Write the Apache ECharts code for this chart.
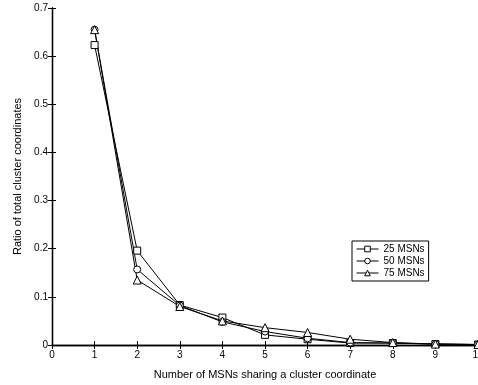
<!DOCTYPE html>
<html><head><meta charset="utf-8">
<script src="https://cdn.jsdelivr.net/npm/echarts@6/dist/echarts.min.js"></script>
<style>html,body{margin:0;padding:0;background:#fff}#c{width:478px;height:385px}</style>
</head><body><div id="c"></div>
<script>
const xValues = [1,2,3,4,5,6,7,8,9,10];
const s25 = [0.623,0.196,0.083,0.057,0.021,0.012,0.004,0.004,0.002,0.001];
const s50 = [0.655,0.157,0.082,0.048,0.028,0.014,0.005,0.004,0.002,0.001];
const s75 = [0.655,0.135,0.080,0.050,0.036,0.026,0.012,0.005,0.002,0.001];
const seriesNames = ['25 MSNs','50 MSNs','75 MSNs'];
const symbols = ['rect','circle','triangle'];
const font = 'Liberation Sans, Arial, sans-serif';
const chart = echarts.init(document.getElementById('c'));
const mk = (name, vals, sym) => ({
  name, type:'line', data: xValues.map((x,i)=>[x, vals[i]]),
  symbol: sym, symbolSize: sym==='triangle'?8:7,
  lineStyle:{color:'#000', width:1},
  itemStyle:{color:'#fff', borderColor:'#000', borderWidth:1},
  animation:false
});
const axLine = {show:true, lineStyle:{color:'#000', width:1.3}};
chart.setOption({
  animation:false,
  backgroundColor:'#fff',
  grid:{left:52, right:0, top:8, bottom:40, containLabel:false, outerBoundsMode:'none'},
  legend:{
    data: seriesNames, orient:'vertical', left:352, top:241,
    borderColor:'#000', borderWidth:1, padding:[3,4,3,4], itemGap:2,
    itemWidth:22, itemHeight:7,
    lineStyle:{width:1}, itemStyle:{borderWidth:1},
    textStyle:{fontFamily:font, fontSize:10, color:'#000'}
  },
  xAxis:[{
    type:'value', min:0, max:10, interval:1,
    name:'Number of MSNs sharing a cluster coordinate', nameLocation:'middle', nameGap:24,
    nameTextStyle:{fontFamily:font, fontSize:11, color:'#000'},
    axisLine:axLine, axisTick:{inside:true, length:4, lineStyle:{color:'#000'}},
    axisLabel:{fontFamily:font, fontSize:10, color:'#000', margin:5},
    splitLine:{show:false}
  },{
    type:'value', min:0, max:10, interval:1, position:'top',
    axisLine:axLine, axisTick:{inside:true, length:4, lineStyle:{color:'#000'}},
    axisLabel:{show:false}, splitLine:{show:false}
  }],
  yAxis:[{
    type:'value', min:0, max:0.7, interval:0.1,
    name:'Ratio of total cluster coordinates', nameLocation:'middle', nameGap:28,
    nameTextStyle:{fontFamily:font, fontSize:11, color:'#000'},
    axisLine:axLine, axisTick:{inside:true, length:4, lineStyle:{color:'#000'}},
    axisLabel:{fontFamily:font, fontSize:10, color:'#000', margin:4,
      formatter:v=>v===0?'0':String(+v.toFixed(1))},
    splitLine:{show:false}
  },{
    type:'value', min:0, max:0.7, interval:0.1, position:'right',
    axisLine:axLine, axisTick:{inside:true, length:4, lineStyle:{color:'#000'}},
    axisLabel:{show:false}, splitLine:{show:false}
  }],
  series:[mk(seriesNames[0], s25, symbols[0]), mk(seriesNames[1], s50, symbols[1]), mk(seriesNames[2], s75, symbols[2])]
});
</script></body></html>
